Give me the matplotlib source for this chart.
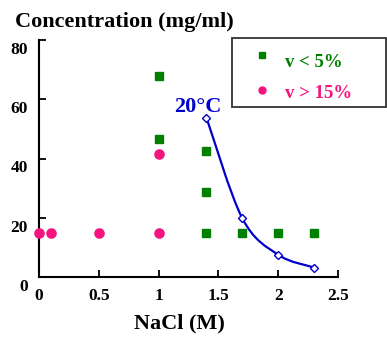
import numpy as np
import matplotlib
matplotlib.use("Agg")
import matplotlib.pyplot as plt
from matplotlib.path import Path
from matplotlib.patches import PathPatch, Rectangle
from matplotlib.lines import Line2D
import matplotlib.transforms as mtransforms

# ---- data ----
green_x = [1.0, 1.0, 1.4, 1.4, 1.4, 1.7, 2.0, 2.3]
green_y = [68, 46.5, 42.5, 28.7, 15, 15, 15, 15]
pink_x = [0.0, 0.1, 0.5, 1.0, 1.0]
pink_y = [15, 15, 15, 15, 41.5]
curve_x = [1.4, 1.7, 2.0, 2.3]
curve_y = [53.8, 19.8, 7.5, 3.2]
xticks = [0, 0.5, 1, 1.5, 2, 2.5]
xtick_labels = ["0", "0.5", "1", "1.5", "2", "2.5"]
yticks = [0, 20, 40, 60, 80]
ytick_labels = ["0", "20", "40", "60", "80"]

GREEN = "#008000"
PINK = "#F5137F"
BLUE = "#0000CC"
FONT = "Liberation Serif"

plt.rcParams["font.family"] = [FONT, "DejaVu Serif"]
plt.rcParams["font.weight"] = "bold"

W, H = 387, 338
fig = plt.figure(figsize=(W / 100, H / 100), dpi=100)
ax = fig.add_axes([39 / W, 61 / H, 299 / W, 237 / H])
ax.set_xlim(0, 2.5)
ax.set_ylim(0, 80)

for s in ["top", "right"]:
    ax.spines[s].set_visible(False)
for s in ["left", "bottom"]:
    ax.spines[s].set_linewidth(1.5)
    ax.spines[s].set_color("black")

ax.set_xticks(xticks)
ax.set_xticklabels(xtick_labels)
ax.set_yticks(yticks)
ax.set_yticklabels(ytick_labels)
ax.tick_params(axis="both", direction="in", length=5, width=1.3,
               labelsize=12.5)
ax.tick_params(axis="x", pad=8)
ax.tick_params(axis="y", pad=8)
for lab in ax.get_xticklabels() + ax.get_yticklabels():
    lab.set_fontweight("bold")
off = mtransforms.ScaledTranslation(0, -8 / 100, fig.dpi_scale_trans)
for lab in ax.get_yticklabels():
    lab.set_transform(lab.get_transform() + off)

ax.set_xlabel("NaCl (M)", fontsize=16, fontweight="bold")
ax.xaxis.set_label_coords((179 - 39) / 299, -(328 - 277) / 237, transform=ax.transAxes)
ax.xaxis.label.set_va("baseline")

# smooth curve (Catmull-Rom in display space)
pts = ax.transData.transform(np.column_stack([curve_x, curve_y]))
P = np.vstack([pts[0], pts, pts[-1]])
verts = [pts[0]]
codes = [Path.MOVETO]
for i in range(1, len(P) - 2):
    p0, p1, p2, p3 = P[i - 1], P[i], P[i + 1], P[i + 2]
    c1 = p1 + (p2 - p0) / 6
    c2 = p2 - (p3 - p1) / 6
    verts += [c1, c2, p2]
    codes += [Path.CURVE4] * 3
dverts = ax.transData.inverted().transform(np.array(verts))
ax.add_patch(PathPatch(Path(dverts, codes), facecolor="none",
                       edgecolor=BLUE, linewidth=1.6, zorder=3))
ax.plot(curve_x, curve_y, linestyle="none", marker="D", markersize=4.2,
        markerfacecolor="white", markeredgecolor=BLUE, markeredgewidth=1,
        zorder=4, clip_on=False)

ax.plot(green_x, green_y, linestyle="none", marker="s", markersize=6.3,
        color=GREEN, zorder=5, clip_on=False)
ax.plot(pink_x, pink_y, linestyle="none", marker="o", markersize=6.6,
        color=PINK, zorder=5, clip_on=False)

# title
fig.text(15 / W, 1 - 27 / H, "Concentration (mg/ml)", fontsize=16,
         fontweight="bold", ha="left", va="baseline")

# 20°C label
fig.text(174 / W, 1 - 112.5 / H, "20°C", fontsize=16, fontweight="bold",
         color=BLUE, ha="left", va="baseline")

# legend (manual)
fig.add_artist(Rectangle((232 / W, 1 - 107 / H), (386 - 232) / W, (107 - 38) / H,
                         transform=fig.transFigure, facecolor="white",
                         edgecolor="#333333", linewidth=1.3, zorder=10))
fig.add_artist(Line2D([262 / W], [1 - 55 / H], transform=fig.transFigure,
                      marker="s", markersize=5, color=GREEN, linestyle="none",
                      zorder=11))
fig.add_artist(Line2D([262 / W], [1 - 90 / H], transform=fig.transFigure,
                      marker="o", markersize=5, color=PINK, linestyle="none",
                      zorder=11))
fig.text(285 / W, 1 - 67 / H, "v < 5%", fontsize=13.5, fontweight="bold",
         color=GREEN, ha="left", va="baseline", zorder=12)
fig.text(285 / W, 1 - 98 / H, "v > 15%", fontsize=13.5, fontweight="bold",
         color=PINK, ha="left", va="baseline", zorder=12)

fig.savefig("out.png", dpi=100)
